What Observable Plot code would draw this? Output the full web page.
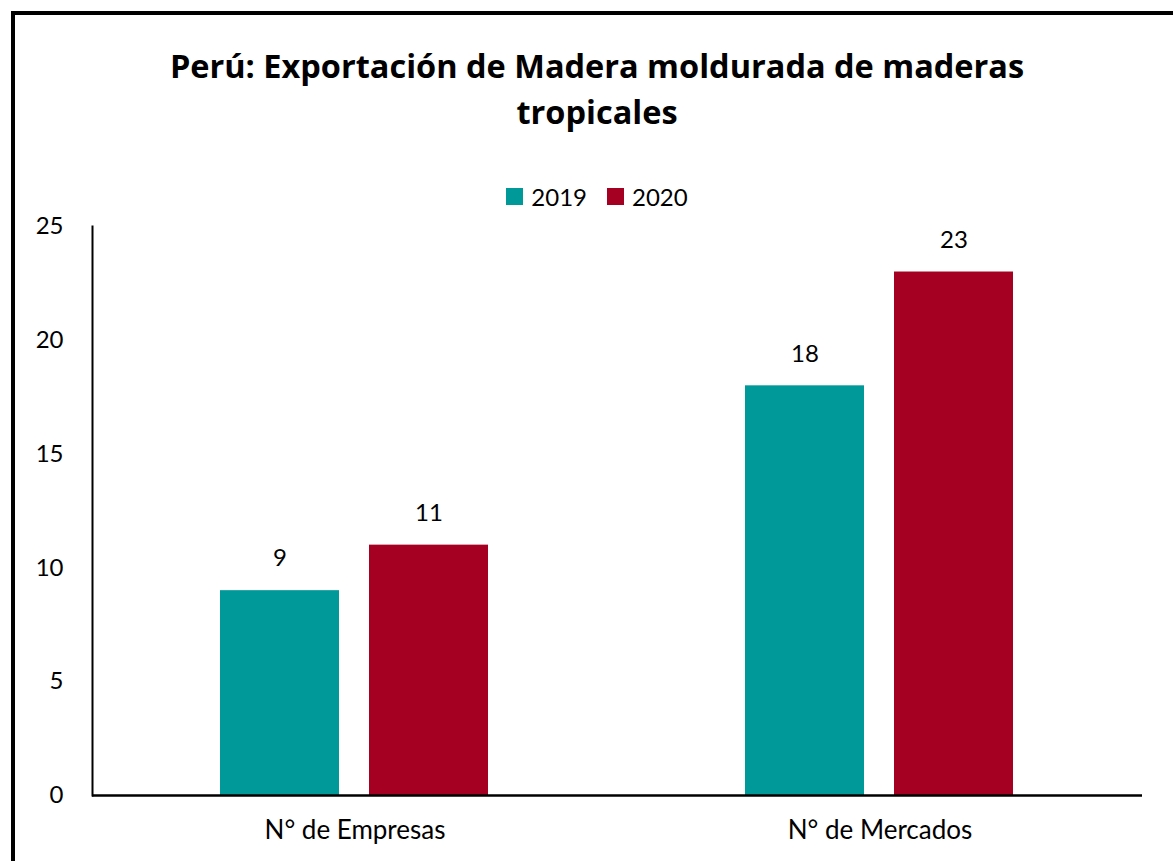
<!DOCTYPE html>
<html>
<head>
<meta charset="utf-8">
<script src="https://cdn.jsdelivr.net/npm/d3@7"></script>
<script src="https://cdn.jsdelivr.net/npm/@observablehq/plot@0.6"></script>
<style>
  html, body { margin: 0; padding: 0; background: #fff; }
  #page { position: relative; width: 1173px; height: 861px; overflow: hidden; background: #fff; font-family: Lato, "Open Sans", sans-serif; }
  #border { position: absolute; left: 11px; top: 11px; width: 1300px; height: 1000px; border-top: 4px solid #000; border-left: 4px solid #000; box-sizing: border-box; }
  #title { position: absolute; left: 0; top: 43px; width: 1194px; text-align: center; font-family: "Open Sans", Lato, sans-serif; font-weight: 700; font-size: 32.5px; line-height: 46px; color: #000; }
  #legend { position: absolute; left: 0; top: 182px; width: 1194px; display: flex; justify-content: center; align-items: center; font-size: 24px; color: #000; }
  .sw { display: inline-block; width: 17px; height: 17px; margin-right: 8px; }
  .item { display: inline-flex; align-items: center; margin: 0 10px; }
  #chart { position: absolute; left: 0; top: 210px; }
</style>
</head>
<body>
<div id="page">
  <div id="border"></div>
  <div id="title">Perú: Exportación de Madera moldurada de maderas<br>tropicales</div>
  <div id="legend"></div>
  <div id="chart"></div>
</div>
<script>
const categories = ["N° de Empresas", "N° de Mercados"];
const years = ["2019", "2020"];
const values2019 = [9, 18];
const values2020 = [11, 23];
const yTicks = [0, 5, 10, 15, 20, 25];
const colors = ["#009999", "#A50021"];

const table = [];
categories.forEach((c, i) => {
  table.push({cat: c, year: years[0], value: values2019[i]});
  table.push({cat: c, year: years[1], value: values2020[i]});
});

const legend = document.getElementById("legend");
years.forEach((y, i) => {
  const it = document.createElement("span");
  it.className = "item";
  const sw = document.createElement("span");
  sw.className = "sw";
  sw.style.background = colors[i];
  it.appendChild(sw);
  it.appendChild(document.createTextNode(y));
  legend.appendChild(it);
});

const chart = Plot.plot({
  width: 1173,
  height: 651,
  marginLeft: 92,
  marginRight: 31,
  marginTop: 16,
  marginBottom: 66,
  style: {fontFamily: "Lato, 'Open Sans', sans-serif", fontSize: "24px", color: "#000", background: "transparent"},
  fx: {domain: categories, paddingInner: 0, paddingOuter: 0, label: null, axis: null},
  x: {domain: years, paddingInner: 0.2, paddingOuter: 0.86, axis: null},
  y: {domain: [0, 25], label: null, axis: null},
  color: {domain: years, range: colors},
  marks: [
    Plot.barY(table, {fx: "cat", x: "year", y: "value", fill: "year"}),
    Plot.text(table, {fx: "cat", x: "year", y: "value", text: d => String(d.value), dy: -32, fontSize: 24, fill: "#000"}),
    Plot.ruleY([0], {stroke: "#000", strokeWidth: 2.5}),
    Plot.frame({anchor: "left", facetAnchor: "left", stroke: "#000", strokeWidth: 2}),
    Plot.axisY({ticks: yTicks, tickSize: 0, tickPadding: 29, label: null, fontSize: 24}),
    Plot.axisFx({anchor: "bottom", tickSize: 0, tickPadding: 25, label: null, fontSize: 26})
  ]
});
document.getElementById("chart").appendChild(chart);
</script>
</body>
</html>
